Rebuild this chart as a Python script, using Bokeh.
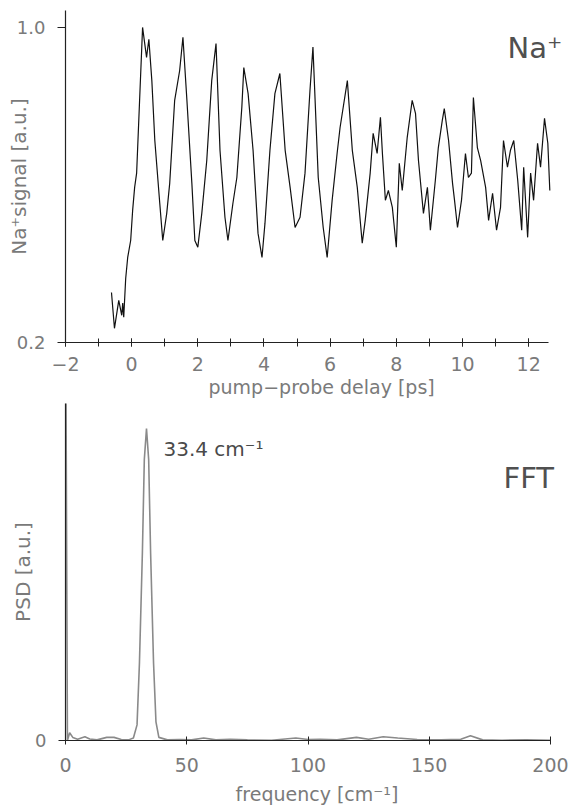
from bokeh.plotting import figure
from bokeh.layouts import column
from bokeh.models import Range1d, FixedTicker, SingleIntervalTicker, Label, NumeralTickFormatter, Title
from bokeh.embed import file_html
from bokeh.resources import INLINE

# ---------------- data ----------------
delay_ps = [-0.61, -0.52, -0.39, -0.30, -0.27, -0.24, -0.18, -0.12, -0.03, 0.03,
            0.09, 0.15, 0.24, 0.33, 0.45, 0.52, 0.61, 0.70, 0.85, 0.94,
            1.06, 1.15, 1.30, 1.45, 1.55, 1.67, 1.82, 1.91, 2.00, 2.12,
            2.27, 2.42, 2.55, 2.67, 2.82, 2.91, 3.06, 3.18, 3.33, 3.39,
            3.52, 3.67, 3.82, 3.94, 4.03, 4.18, 4.33, 4.48, 4.64, 4.79,
            4.94, 5.09, 5.24, 5.39, 5.48, 5.64, 5.79, 5.91, 6.06, 6.21,
            6.30, 6.52, 6.67, 6.82, 6.97, 7.06, 7.21, 7.30, 7.42, 7.52,
            7.58, 7.67, 7.76, 7.88, 8.00, 8.09, 8.18, 8.33, 8.48, 8.58,
            8.67, 8.82, 8.94, 9.03, 9.18, 9.27, 9.39, 9.45, 9.58, 9.70,
            9.76, 9.85, 9.97, 10.09, 10.18, 10.27, 10.33, 10.45, 10.55, 10.70,
            10.79, 10.91, 11.03, 11.15, 11.24, 11.36, 11.45, 11.55, 11.67, 11.79,
            11.85, 11.97, 12.06, 12.15, 12.27, 12.36, 12.48, 12.58, 12.64]
na_signal = [0.327, 0.236, 0.307, 0.269, 0.300, 0.264, 0.363, 0.416, 0.459, 0.536,
             0.594, 0.630, 0.815, 1.000, 0.924, 0.970, 0.865, 0.713, 0.553, 0.459,
             0.528, 0.604, 0.815, 0.890, 0.975, 0.815, 0.604, 0.459, 0.442, 0.528,
             0.662, 0.865, 0.959, 0.688, 0.518, 0.459, 0.553, 0.619, 0.797, 0.898,
             0.832, 0.688, 0.477, 0.416, 0.503, 0.688, 0.832, 0.883, 0.688, 0.594,
             0.492, 0.518, 0.630, 0.840, 0.950, 0.619, 0.492, 0.416, 0.561, 0.680,
             0.746, 0.865, 0.688, 0.594, 0.452, 0.510, 0.630, 0.731, 0.680, 0.772,
             0.680, 0.561, 0.586, 0.543, 0.442, 0.655, 0.586, 0.721, 0.815, 0.782,
             0.662, 0.528, 0.594, 0.485, 0.612, 0.695, 0.764, 0.794, 0.713, 0.604,
             0.561, 0.492, 0.561, 0.680, 0.619, 0.630, 0.822, 0.695, 0.662, 0.594,
             0.510, 0.579, 0.485, 0.543, 0.713, 0.645, 0.688, 0.713, 0.612, 0.485,
             0.645, 0.467, 0.630, 0.561, 0.706, 0.645, 0.769, 0.706, 0.586]

freq_cm = [0, 0.8, 1.7, 3, 5, 8, 10, 13, 17, 20, 23, 26, 28, 29.5, 30.5, 31.7, 32.5,
           33.4, 34.3, 35.1, 36.3, 37.3, 38.5, 42, 47, 52, 57, 62, 68, 75, 85, 95,
           100, 105, 112, 120, 125, 131, 137, 145, 155, 163, 167, 172, 180, 190, 200]
psd = [1.5, 0.0, 0.025, 0.01, 0.004, 0.012, 0.005, 0.002, 0.01, 0.01, 0.003, 0.002,
       0.008, 0.05, 0.25, 0.6, 0.9, 1.0, 0.9, 0.6, 0.25, 0.06, 0.01, 0.002, 0.003,
       0.002, 0.008, 0.002, 0.004, 0.002, 0.001, 0.008, 0.003, 0.004, 0.002, 0.01,
       0.004, 0.012, 0.008, 0.003, 0.002, 0.004, 0.015, 0.002, 0.001, 0.002, 0.001]

top_yticks = [0.2, 1.0]
bottom_xticks = [0, 50, 100, 150, 200]
bottom_yticks = [0]

FONT = "DejaVu Sans"
TXT = "#7a7a7a"
AX = "#222222"


def style(p):
    p.background_fill_color = "white"
    p.border_fill_color = "white"
    p.outline_line_color = None
    p.xgrid.visible = False
    p.ygrid.visible = False
    for ax in (p.xaxis[0], p.yaxis[0]):
        ax.axis_line_color = AX
        ax.axis_line_width = 1.2
        ax.major_tick_line_color = AX
        ax.minor_tick_line_color = AX
        ax.major_label_text_font = FONT
        ax.major_label_text_color = TXT
        ax.axis_label_text_font = FONT
        ax.axis_label_text_color = TXT
        ax.axis_label_text_font_style = "normal"
        ax.axis_label_text_font_size = "19px"
    p.xaxis[0].major_label_text_font_size = "19px"
    p.yaxis[0].major_label_text_font_size = "18px"
    p.yaxis[0].axis_label_text_font_size = "20px"


# ---------------- top: Na+ transient ----------------
p1 = figure(frame_width=503, frame_height=332,
            x_range=Range1d(-2, 13.205), y_range=Range1d(0.2, 1.043),
            min_border_left=65, min_border_right=3, min_border_top=10,
            min_border_bottom=61,
            output_backend="svg", toolbar_location=None)
style(p1)
p1.line(delay_ps, na_signal, line_color="#111111", line_width=1.2)

xa = p1.xaxis[0]
xa.bounds = (-2, 12.6)
xa.ticker = SingleIntervalTicker(interval=2, num_minor_ticks=2)
xa.major_tick_in = 4
xa.major_tick_out = 4
xa.minor_tick_in = 4
xa.minor_tick_out = 4
xa.major_label_standoff = 10

ya = p1.yaxis[0]
ya.ticker = FixedTicker(ticks=top_yticks, minor_ticks=[])
ya.formatter = NumeralTickFormatter(format="0.0")
ya.major_tick_in = 0
ya.major_tick_out = 8
ya.major_label_standoff = 12
ya.axis_label = "Na\u207asignal [a.u.]"
ya.axis_label_standoff = -17

p1.add_layout(Title(text="pump\u2212probe delay [ps]", align="left", offset=143,
                    standoff=0, text_font=FONT, text_font_size="19px",
                    text_color=TXT, text_font_style="normal"), "below")
p1.add_layout(Label(x=11.36, y=0.949, text="Na\u207a",
                    text_font=FONT, text_font_size="29px", text_color="#505050",
                    text_align="left", text_baseline="alphabetic"))

# ---------------- bottom: FFT ----------------
p2 = figure(frame_width=503, frame_height=337,
            x_range=Range1d(0, 207.42), y_range=Range1d(0, 1.08),
            min_border_left=65, min_border_right=3, min_border_top=0,
            min_border_bottom=69,
            output_backend="svg", toolbar_location=None)
style(p2)
p2.line(freq_cm, psd, line_color="#8a8a8a", line_width=1.6)

xb = p2.xaxis[0]
xb.bounds = (0, 200)
xb.ticker = FixedTicker(ticks=bottom_xticks, minor_ticks=[])
xb.major_tick_in = 4
xb.major_tick_out = 4
xb.major_label_standoff = 13
xb.axis_label = "frequency [cm\u207b\u00b9]"
xb.axis_label_standoff = 8

yb = p2.yaxis[0]
yb.ticker = FixedTicker(ticks=bottom_yticks, minor_ticks=[])
yb.major_tick_in = 0
yb.major_tick_out = 7
yb.major_label_standoff = 12
yb.axis_label = "PSD [a.u.]"
yb.axis_label_standoff = -3

p2.add_layout(Label(x=40.4, y=0.933, text="33.4 cm\u207b\u00b9",
                    text_font=FONT, text_font_size="20px", text_color="#4a4a4a",
                    text_align="left", text_baseline="alphabetic"))
p2.add_layout(Label(x=180.6, y=0.84, text="FFT",
                    text_font=FONT, text_font_size="29px", text_color="#505050",
                    text_align="left", text_baseline="alphabetic"))

layout = column(p1, p2, spacing=0)
open("out.html", "w").write(file_html(layout, INLINE))
